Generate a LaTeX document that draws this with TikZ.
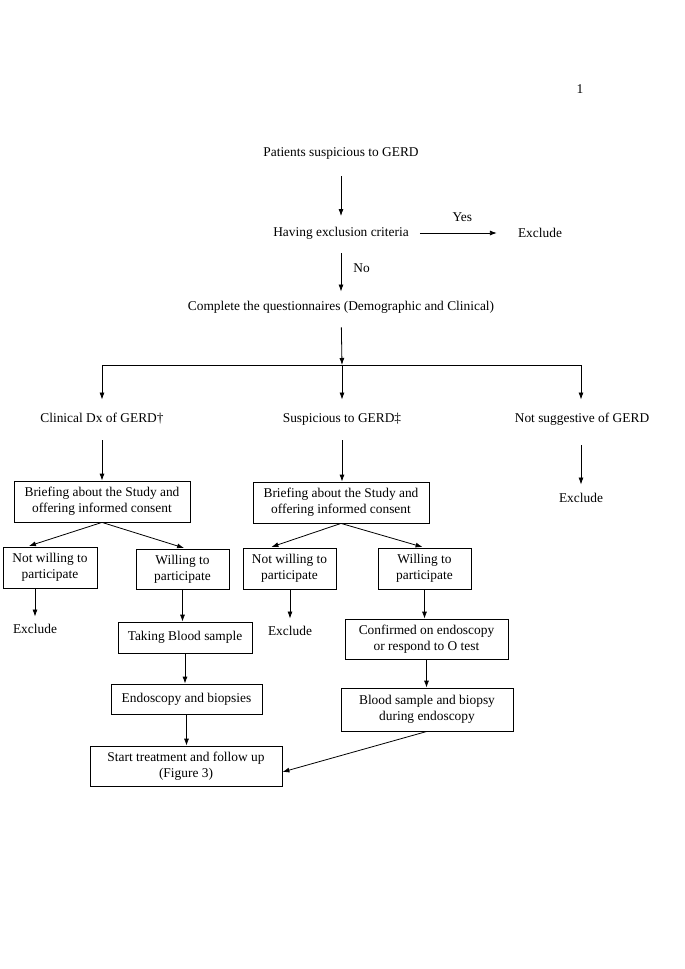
\documentclass[tikz,border=0pt]{standalone}
\usepackage{fontspec}
\setmainfont{Liberation Serif}
\usetikzlibrary{arrows.meta,calc}
\begin{document}
\begin{tikzpicture}[x=1pt,y=-1pt,
  font=\fontsize{13.4}{16}\selectfont,
  txt/.style={inner sep=0pt, text height=10.5pt, text depth=3pt},
  box/.style={draw, line width=0.8pt, align=center, inner sep=0pt},
  arr/.style={-{Latex[length=7pt,width=5pt]}, line width=0.8pt},
  ln/.style={line width=0.8pt}]
\useasboundingbox (0,0) rectangle (685,969);

% top part
\node[txt] (pg) at (580,90) {1};
\node[txt] (p) at (341,153) {Patients suspicious to GERD};
\node[txt] (h) at (341,233) {Having exclusion criteria};
\node[txt] (ex0) at (540,234) {Exclude};
\node[txt] (c) at (341,307) {Complete the questionnaires (Demographic and Clinical)};

\draw[arr, shorten <=16.5pt, shorten >=10pt] (p) -- (h);
\draw[arr, shorten <=11pt, shorten >=21pt] (h.east) -- node[txt, above=8pt, xshift=-1pt] (yes) {Yes} (h.east -| ex0.west);
\draw[arr, shorten <=13.5pt, shorten >=8.5pt] (h) -- node[txt, right=12pt, yshift=1pt] (no) {No} (c);

% fan out
\coordinate (j) at (342,365);
\coordinate (jl) at (102,365);
\coordinate (jr) at (581,365);
\node[txt] (d1) at (102,419) {Clinical Dx of GERD†};
\node[txt] (d2) at (342,419) {Suspicious to GERD‡};
\node[txt] (d3) at (582,419) {Not suggestive of GERD};
\node[txt] (ex3) at (581,499) {Exclude};

\draw[arr, shorten <=13.5pt] (c) -- (j);
\draw[ln] (jl) -- (jr);
\draw[arr, shorten >=12.5pt] (jl) -- (jl |- d1.north);
\draw[arr, shorten >=12.5pt] (j) -- (j |- d2.north);
\draw[arr, shorten >=12.5pt] (jr) -- (jr |- d3.north);

% boxes
\node[box, minimum width=176pt, minimum height=41pt] (b1) at (102,501.5) {Briefing about the Study and\\offering informed consent};
\node[box, minimum width=176pt, minimum height=41pt] (b2) at (341,502.5) {Briefing about the Study and\\offering informed consent};
\node[box, minimum width=94pt, minimum height=41pt] (n1) at (50,567.5) {Not willing to\\participate};
\node[box, minimum width=93pt, minimum height=40pt] (w1) at (182.5,569) {Willing to\\participate};
\node[box, minimum width=93pt, minimum height=41pt] (n2) at (289.5,568.5) {Not willing to\\participate};
\node[box, minimum width=93pt, minimum height=41pt] (w2) at (424.5,568.5) {Willing to\\participate};
\node[txt] (e1) at (35,630) {Exclude};
\node[txt] (e2) at (290,632) {Exclude};
\node[box, minimum width=134pt, minimum height=31pt] (t1) at (185,637.5) {Taking Blood sample};
\node[box, minimum width=151pt, minimum height=30pt] (en) at (186.5,699) {Endoscopy and biopsies};
\node[box, minimum width=192pt, minimum height=40pt] (st) at (186,766) {Start treatment and follow up\\(Figure 3)};
\node[box, minimum width=163pt, minimum height=40pt] (cf) at (426.5,639) {Confirmed on endoscopy\\or respond to O test};
\node[box, minimum width=172pt, minimum height=43pt] (bs) at (427,709.5) {Blood sample and biopsy\\during endoscopy};

% connectors
\draw[arr, shorten <=14.5pt] (d1) -- (d1.south |- b1.north);
\draw[arr, shorten <=14.5pt] (d2) -- (d2.south |- b2.north);
\draw[arr, shorten <=19.5pt, shorten >=7.5pt] (ex3 |- d3.south) -- (ex3);

\draw[arr, shorten >=2pt] (b1.south) -- ([xshift=-23pt]n1.north);
\draw[arr, shorten >=2pt] (b1.south) -- ([xshift=3.5pt]w1.north);
\draw[arr, shorten >=2pt] (b2.south) -- ([xshift=-20pt]n2.north);
\draw[arr, shorten >=2pt] (b2.south) -- (w2.north);

\draw[arr, shorten >=6.5pt] (e1 |- n1.south) -- (e1);
\draw[arr, shorten >=6.5pt] (e2 |- n2.south) -- (e2);
\draw[arr] (w1.south) -- (w1.south |- t1.north);
\draw[arr] (t1.south) -- (t1.south |- en.north);
\draw[arr] (en.south) -- (en.south |- st.north);
\draw[arr] (w2.south) -- (w2.south |- cf.north);
\draw[arr] (cf.south) -- (cf.south |- bs.north);
\draw[arr] (bs.south) -- ([yshift=-6pt]st.east);
\end{tikzpicture}
\end{document}
